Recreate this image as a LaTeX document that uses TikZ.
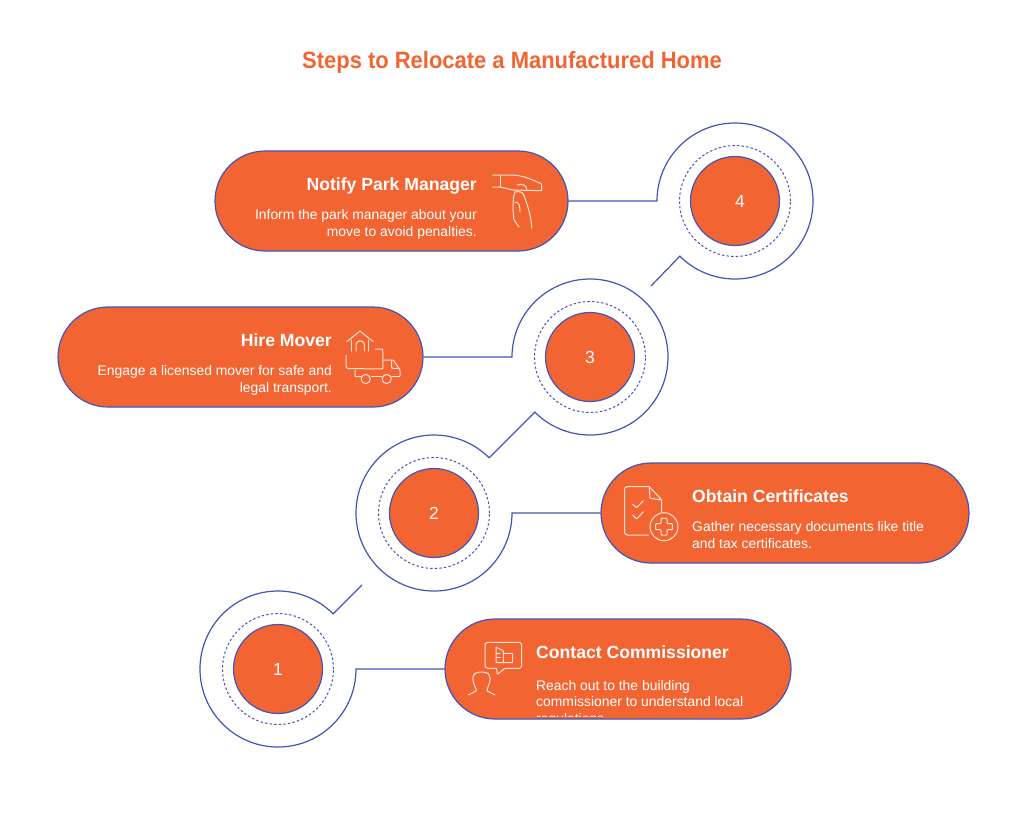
\documentclass[tikz,border=0pt]{standalone}
\usepackage{fontspec}
\setmainfont{Liberation Sans}
\newfontfamily\titlefont[FakeStretch=0.93]{Liberation Sans}
\usetikzlibrary{shapes.misc}
\definecolor{brand}{HTML}{F26532}
\definecolor{edge}{HTML}{4354B8}
\definecolor{iconline}{HTML}{FBE3D6}
\tikzset{
  pill/.style={rounded rectangle,draw=edge,fill=brand,line width=1.2pt,minimum height=100pt,inner sep=0pt},
  disc/.style={circle,draw=edge,fill=brand,line width=1.2pt,minimum size=89pt,inner sep=0pt},
  dashring/.style={circle,draw=edge,dash pattern=on 2.4pt off 2.2pt,line width=1pt,minimum size=111pt,inner sep=0pt},
  ringbase/.style={circle,minimum size=156pt,inner sep=0pt,outer sep=0pt},
  link/.style={draw=edge,line width=1.2pt,line join=miter},
  num/.style={text=white,font=\fontsize{17.5}{20}\selectfont},
  head/.style={text=white,inner sep=0pt,font=\fontsize{17.6}{20}\selectfont\bfseries},
  body/.style={text=white,inner sep=0pt,font=\fontsize{13.9}{16}\selectfont},
  icon/.style={draw=iconline,line width=1pt,line cap=round,line join=round,rounded corners=0.8pt},
}
\begin{document}
\begin{tikzpicture}[x=1pt,y=-1pt]
\useasboundingbox (0,0) rectangle (1024,815);
\fill[white] (0,0) rectangle (1024,815);
\node[text=brand,inner sep=0pt,font=\titlefont\fontsize{23.6}{28}\selectfont\bfseries] (title) at (512,62.5) {Steps to Relocate a Manufactured Home};

% pills
\node[pill,minimum width=353pt] (p4) at (391.5,201) {};
\node[pill,minimum width=365pt] (p3) at (240.5,357) {};
\node[pill,minimum width=368pt] (p2) at (785,513) {};
\node[pill,minimum width=346pt] (p1) at (618,669) {};

% rings (invisible anchors of the connector arcs)
\node[ringbase] (r4) at (735,201) {};
\node[ringbase] (r3) at (590,357) {};
\node[ringbase] (r2) at (434,513) {};
\node[ringbase] (r1) at (278,669) {};
\coordinate (free4) at (651,286);
\coordinate (free1) at (362,585);

% connectors
\draw[link] (p4.east) -- (r4.west) arc[start angle=180,end angle=-135,radius=78pt] -- (free4);
\draw[link] (p3.east) -- (r3.west) arc[start angle=180,end angle=-135,radius=78pt] -- (r2.45);
\draw[link] (p2.west) -- (r2.east) arc[start angle=0,end angle=-315,radius=78pt];
\draw[link] (p1.west) -- (r1.east) arc[start angle=0,end angle=-315,radius=78pt] -- (free1);

% discs
\foreach \c/\t/\dx in {r4/4/5,r3/3/0,r2/2/0,r1/1/0}{
  \node[dashring] (dash\t) at (\c) {};
  \node[disc] (disc\t) at (\c) {};
  \node[num] (num\t) at ([xshift=\dx pt]disc\t.center) {\t};
}

% texts
\node[head,anchor=base east] (h4) at (477,190) {Notify Park Manager};
\node[body,anchor=base east] (b4a) at (477,219.5) {Inform the park manager about your};
\node[body,anchor=base east] (b4b) at (477,236) {move to avoid penalties.};
\node[head,anchor=base east] (h3) at (332,346) {Hire Mover};
\node[body,anchor=base east] (b3a) at (332,375.5) {Engage a licensed mover for safe and};
\node[body,anchor=base east] (b3b) at (332,392) {legal transport.};
\node[head,anchor=base west] (h2) at (692,502) {Obtain Certificates};
\node[body,anchor=base west] (b2a) at (692,531.5) {Gather necessary documents like title};
\node[body,anchor=base west] (b2b) at (692,548) {and tax certificates.};
\node[head,anchor=base west] (h1) at (536,658) {Contact Commissioner};
\node[body,anchor=base west] (b1a) at (536,690) {Reach out to the building};
\node[body,anchor=base west] (b1b) at (536,706.5) {commissioner to understand local};
\begin{scope}
\clip (500,700) rectangle (780,716.8);
\node[body,anchor=base west] (b1c) at (536,723) {regulations.};
\end{scope}

% icon: hand
\draw[icon] (492.7,175) -- (513,175) .. controls (525,176) and (533,180) .. (541.7,184) -- (541.7,190.7) -- (513,190) -- (500,187) -- (492.7,187);
\draw[icon] (500,175) -- (500,187);
\draw[icon] (517,185) .. controls (522,183.5) and (527,185) .. (526.7,190);
\draw[icon] (515,192) .. controls (512,200) and (513,212) .. (514,220) -- (519,227);
\draw[icon] (515,192) .. controls (519,191) and (523,192) .. (524,196) .. controls (528,206) and (531,216) .. (531.7,228);
\draw[icon] (515,202) .. controls (519,202) and (520,206) .. (520,212);

% icon: truck and house
\draw[icon] (346.7,341.7) -- (360,331) -- (373.3,341.7);
\draw[icon] (351.7,340) -- (351.7,351);
\draw[icon] (368.3,340) -- (368.3,351);
\draw[icon] (356,351) -- (356,345) arc[start angle=180,end angle=0,radius=4.2pt] -- (364.4,351);
\draw[icon] (346,355) -- (346,366.5) -- (347.5,368.5) -- (383,369) -- (382.7,349) -- (375,349);
\draw[icon] (383.3,360) -- (393.3,360) -- (400,370) -- (400,376.7) -- (391.7,376.7);
\draw[icon] (391.7,361) -- (391.7,368.3) -- (398,368.3);
\draw[icon] (371.7,376.7) -- (381.7,376.7);
\draw[icon] (361.7,376.7) -- (355,376.7) -- (355,370);
\draw[icon] (365.7,379) circle[radius=4.6pt];
\draw[icon] (386.7,379) circle[radius=4.6pt];

% icon: document
\draw[icon] (649.3,486.7) -- (626.5,486.7) -- (624.5,488.5) -- (624.5,533) -- (626.5,535) -- (648.3,535);
\draw[icon] (649.3,486.7) -- (661.7,500) -- (661.7,511.7);
\draw[icon] (649.3,486.7) -- (650,498.3) -- (661.7,500);
\draw[icon] (632.7,504.3) -- (636.7,507.7) -- (643.3,500.7);
\draw[icon] (632.7,515) -- (636.7,519) -- (643.3,511.7);
\draw[icon] (664,526.7) circle[radius=14pt];
\draw[icon] (661,518.3) -- (667,518.3) -- (667,523.7) -- (672.4,523.7) -- (672.4,529.7) -- (667,529.7) -- (667,535.1) -- (661,535.1) -- (661,529.7) -- (655.6,529.7) -- (655.6,523.7) -- (661,523.7) -- cycle;

% icon: bubble and person
\draw[icon] (496.7,668.3) -- (487,668.3) -- (485,666.5) -- (485,644) -- (487,642.3) -- (520,642.3) -- (521.7,644) -- (521.7,666.5) -- (520,668.3) -- (505,668.3) -- (497.3,674.3) -- cycle;
\draw[icon] (496,647.3) -- (496,662.7) -- (512.7,662.7) -- (512.7,653.3) -- (503.3,653.3);
\draw[icon] (496,647.3) -- (503.3,650.7) -- (503.3,662.7);
\draw[icon] (496,653.3) -- (500,653.3);
\draw[icon] (496,657.7) -- (500,657.7);
\draw[icon] (468.3,695) -- (476.7,690.7) .. controls (474,684) and (472,680) .. (473.5,676) .. controls (475,671) and (488,671) .. (489.5,676) .. controls (491,680) and (489,684) .. (486.7,690.7) -- (495,695);
\end{tikzpicture}
\end{document}
